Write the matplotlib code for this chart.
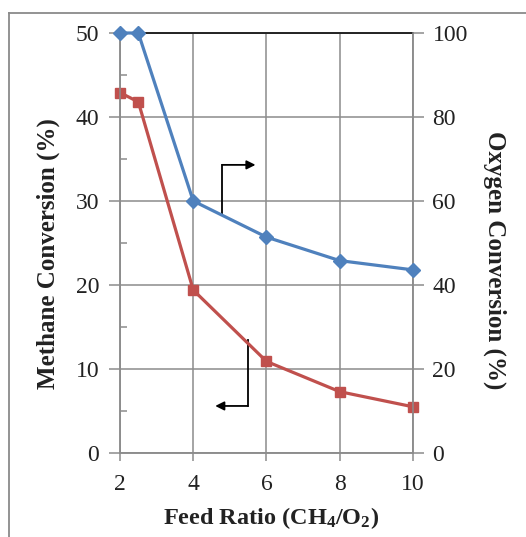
import matplotlib
matplotlib.use("Agg")
import matplotlib.pyplot as plt
from matplotlib.lines import Line2D
from matplotlib.ticker import MultipleLocator

plt.rcParams['font.family'] = ['Liberation Serif', 'DejaVu Serif']
plt.rcParams['mathtext.fontset'] = 'custom'
plt.rcParams['mathtext.rm'] = 'Liberation Serif:bold'
plt.rcParams['mathtext.it'] = 'Liberation Serif:bold'
plt.rcParams['mathtext.bf'] = 'Liberation Serif:bold'

# Feed ratio CH4/O2
feed_ratio = [2, 2.5, 4, 6, 8, 10]
# Methane conversion (%), left axis
methane_conv = [42.9, 41.8, 19.4, 10.9, 7.3, 5.5]
# Oxygen conversion (%), right axis
oxygen_conv = [100, 100, 60.0, 51.4, 45.8, 43.6]

x_ticks = [2, 4, 6, 8, 10]
left_ticks = [0, 10, 20, 30, 40, 50]
right_ticks = [0, 20, 40, 60, 80, 100]

W, H = 526, 537
fig = plt.figure(figsize=(W / 100, H / 100), dpi=100)

# outer frame (top and left edges)
grey = '#8a8a8a'
fig.add_artist(Line2D([9 / W, 9 / W], [0, 1 - 13 / H], color=grey, lw=1.3))
fig.add_artist(Line2D([9 / W, 1], [1 - 13 / H, 1 - 13 / H], color=grey, lw=1.3))

left, right, bottom, top = 120 / W, 413 / W, 1 - 453 / H, 1 - 33 / H
ax = fig.add_axes([left, bottom, right - left, top - bottom])
ax2 = ax.twinx()

grid_c = '#8c8c8c'
ax.set_xlim(2, 10)
ax.set_ylim(0, 50)
ax2.set_ylim(0, 100)
ax.set_xticks(x_ticks)
ax.set_yticks(left_ticks)
ax.yaxis.set_minor_locator(MultipleLocator(5))
ax2.set_yticks(right_ticks)

ax.grid(True, which='major', color=grid_c, lw=1.1)
ax.set_axisbelow(True)

for a in (ax, ax2):
    for s in a.spines.values():
        s.set_color(grid_c)
        s.set_linewidth(1.1)
ax.spines['top'].set_color('#222222')
ax.spines['top'].set_linewidth(1.4)
ax2.spines['top'].set_visible(False)

tick_font = 17
ax.tick_params(axis='x', direction='out', length=6, width=1.1, color=grid_c,
               labelsize=tick_font, pad=9, labelcolor='#222222')
ax.tick_params(axis='y', which='major', direction='out', length=8, width=1.1,
               color=grid_c, labelsize=tick_font, pad=7, labelcolor='#222222')
ax.tick_params(axis='y', which='minor', direction='in', length=5, width=1.1,
               color=grid_c)
ax2.tick_params(axis='y', direction='out', length=8, width=1.1, color=grid_c,
                labelsize=tick_font, pad=6, labelcolor='#222222')

red = '#C0504D'
blue = '#4F81BD'
ax.plot(feed_ratio, methane_conv, color=red, lw=2.3, marker='s', ms=7,
        clip_on=False, zorder=5)
ax2.plot(feed_ratio, oxygen_conv, color=blue, lw=2.3, marker='D', ms=7,
         clip_on=False, zorder=5)

# arrows pointing to the respective axes
ax.annotate('', xy=(5.7, 34.3), xytext=(4.79, 34.3),
            arrowprops=dict(arrowstyle='-|>', color='black', lw=1.3,
                            mutation_scale=13, shrinkA=0, shrinkB=0))
ax.plot([4.79, 4.79], [28.6, 34.3], color='black', lw=1.3, zorder=4)
ax.annotate('', xy=(4.6, 5.6), xytext=(5.49, 5.6),
            arrowprops=dict(arrowstyle='-|>', color='black', lw=1.3,
                            mutation_scale=13, shrinkA=0, shrinkB=0))
ax.plot([5.49, 5.49], [5.6, 13.5], color='black', lw=1.3, zorder=4)

label_c = '#222222'
fig.text(271 / W, 1 - 518 / H, r'Feed Ratio (CH$_4$/O$_2$)', ha='center',
         va='center', fontsize=17.5, fontweight='bold', color=label_c)
fig.text(48 / W, 1 - 254 / H, 'Methane Conversion (%)', ha='center',
         va='center', rotation=90, fontsize=18, fontweight='bold',
         color=label_c)
fig.text(495 / W, 1 - 260 / H, 'Oxygen Conversion (%)', ha='center',
         va='center', rotation=270, fontsize=18, fontweight='bold',
         color=label_c)

fig.savefig('out.png', dpi=100)
